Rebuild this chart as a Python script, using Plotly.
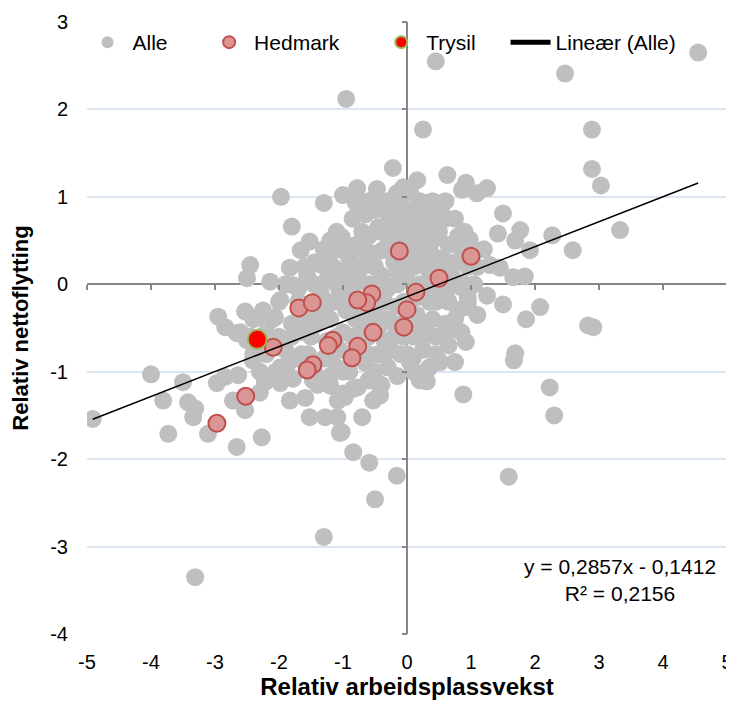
import numpy as np
import plotly.graph_objects as go

# ---------- data ----------
alle_x = [
    4.55, 2.47, 0.45, -0.95, 0.25, 2.89, 2.89, 3.03, 3.33, 0.63, 0.92, 0.86, 1.09, 1.25, 1.50,
    1.42, 1.77, 1.69, 1.92, 2.27, 2.59, 1.30, 1.45, 1.66, 1.84, 0.98, 0.41, 0.31, -0.22, 0.16,
    0.83, 1.25, 1.50, 2.08, 1.86, 2.91, 2.83, 0.95, 0.92, 1.69, 1.67, 2.23, 2.30, 1.59, 0.88,
    0.75, 0.52, 0.31, 0.09, -0.16, -0.50, -0.59, -0.84, -1.05, -0.70, -1.09, -0.53, -0.45, -0.97,
    -1.30, -3.31, -4.91, -4.00, -3.81, -3.73, -3.50, -3.42, -3.31, -3.34, -3.11, -2.97, -2.66,
    -2.27, -2.53, -2.72, -2.84, -2.64, -2.30, -2.22, -1.98, -1.83, -1.59, -1.52, -1.28, -1.02,
    -1.08, -1.00, -0.42, -0.77, -0.53, -1.20, -1.47, -1.78, -1.98, -1.72, -2.41, -2.50, -2.66,
    -2.84, -2.95, -2.53, -2.34, -2.06, -1.98, -1.78, -1.56, -1.33, -1.17, -0.94, -0.78, -0.63,
    -0.38, -0.42, -0.27, -0.47, -0.16, -0.06, -1.97, -1.30, -1.00, -0.78, -0.80, -0.47, -0.50,
    -1.80, -1.52, -1.66, -1.83, -2.45, -2.50, -2.14, -1.02, -0.69, -1.00, -0.89,
    -0.10, 0.05, 0.20, -0.20, 0.00, 0.15, -0.35, 0.30, -0.05, 0.10, -0.25, 0.35, -0.45, 0.50,
    0.20, -0.10, -0.60, 0.40, 0.65, -0.30, 0.05, -0.80, 0.25, -0.50, -1.20, 0.55, 0.75, -0.20,
    0.10, -0.70, -1.00, 0.35, 0.70, -0.40, -1.25, 0.00, 0.90, -0.60, 0.25, -0.85, 0.60, -1.05,
    -0.30, 0.45, 0.80, -0.15, 0.15, -0.45, -0.95, 0.30, 0.60, -0.20, -0.70, -1.40, 0.10, 0.45,
    -0.35, -0.60, -1.00, -1.60, 0.25, -0.10, -0.45, -1.05, -1.30, 0.05, -0.30, -0.65, -0.90,
    -1.65, -1.90, -2.00, -1.80, -2.20, -1.30, -1.55, -1.85, -2.05, -1.20, -0.60, -0.15, 0.20,
    0.35, -0.40, -0.85, -1.40, -1.10, -0.75, -0.55, -2.40, -2.60, -2.25, -1.70, -1.45, -1.15,
    -0.90, -1.45, -0.30, -0.65, -0.15, 0.45, 0.50, 0.15, -0.05, 0.65, 0.85, 0.95, 1.10, 1.10,
    0.80, 0.60, -0.05, 0.05, -0.45, -0.85, -1.25, -0.75, -0.25,
    -0.55, -0.30, 0.40, 0.60, -0.85, -0.15, 0.20, 0.50, 0.75, -1.10, -0.70, -0.40, 0.00, 0.30,
    0.90, -1.30, -1.05, -0.65, -0.35, 0.15, 0.35, 0.85, 1.20, -1.60, -1.15, -0.85, -0.50, -0.05,
    0.30, 0.50, 0.95, -1.90, -1.10, -0.35, -0.15, 0.20, 0.40, 0.75, 1.05, -2.00, -1.70, -1.40,
    -0.95, -0.65, -0.35, 0.35, 0.65, 0.95, -2.40, -2.10, -1.70, -1.20, -0.80, -0.55, -0.30, 0.00,
    0.40, 0.75, -2.45, -1.80, -1.50, -1.10, -0.75, -0.20, 0.25, 0.60, -2.20, -1.55, -1.20, -0.60,
    -0.35, 0.00, 0.45, -2.30, -1.45, -1.00, -0.50, 0.10, 0.30,
    -1.20, 0.55, 0.70, -0.15, 0.10, -0.55, 0.45, -0.80, -1.35, 0.20, -0.60,
]
alle_y = [
    2.65, 2.41, 2.55, 2.12, 1.77, 1.77, 1.32, 1.13, 0.62, 1.25, 1.16, 1.08, 1.04, 1.10, 0.81,
    0.58, 0.62, 0.50, 0.39, 0.56, 0.39, 0.22, 0.19, 0.08, 0.09, 0.51, 0.62, 0.93, 1.33, 1.19,
    -0.03, -0.13, -0.23, -0.26, -0.40, -0.49, -0.47, -0.26, -0.66, -0.79, -0.87, -1.18, -1.50,
    -2.20, -1.26, -0.89, -0.89, -1.11, -0.85, -2.19, -2.46, -2.04, -1.92, -1.70, -1.52, -1.52,
    -1.33, -1.28, -1.29, -2.89, -3.35, -1.54, -1.03, -1.33, -1.71, -1.12, -1.35, -1.42, -1.52,
    -1.71, -1.13, -1.86, -1.75, -1.44, -1.33, -1.06, -1.04, -1.24, -1.12, -1.13, -1.33, -1.30,
    -1.52, -1.52, -1.69, -1.33, -1.25, -1.27, -1.18, -1.10, -1.16, -1.10, -1.08, -0.95, -0.85,
    -0.87, -0.64, -0.56, -0.49, -0.37, -0.31, -0.38, -0.38, -0.18, -0.01, 0.10, 0.22, 0.08,
    0.08, 0.19, 0.35, 0.39, 0.65, 0.77, 0.88, 1.04, 1.11, 1.00, 0.93, 1.02, 1.10, 0.93, 1.09,
    0.85, 0.66, 0.49, 0.39, 0.19, 0.22, 0.07, 0.03, 0.54, 0.53, 0.39, 0.27,
    1.00, 1.05, 0.95, 0.90, 0.85, 0.80, 0.85, 0.85, 0.70, 0.65, 0.70, 0.70, 0.65, 0.60, 0.55,
    0.55, 0.55, 0.50, 0.45, 0.45, 0.45, 0.45, 0.35, 0.35, 0.35, 0.30, 0.25, 0.25, 0.20, 0.20,
    0.15, 0.15, 0.10, 0.10, 0.05, 0.05, 0.00, 0.00, -0.05, -0.05, -0.10, -0.10, -0.05, -0.20,
    -0.30, -0.25, -0.35, -0.35, -0.30, -0.45, -0.45, -0.45, -0.45, -0.45, -0.60, -0.60, -0.65,
    -0.60, -0.55, -0.55, -0.75, -0.80, -0.80, -0.75, -0.85, -0.90, -0.95, -0.90, -1.00, -0.80,
    -0.75, -0.60, -0.45, -0.55, -0.30, -0.35, -0.90, -1.00, -1.05, -1.10, -1.05, -1.10, -0.95,
    -1.15, -1.20, -1.15, -0.95, -0.30, -0.25, -0.80, -0.55, -0.30, -0.05, 0.00, -0.20, 0.30,
    0.25, 0.60, 0.80, 0.30, 0.85, 0.05, -0.15, -0.60, -0.70, -0.55, -0.15, 0.20, -0.35, 0.55,
    0.75, -0.20, 0.30, -0.50, -0.60, -0.65, 0.05, -0.75,
    0.95, 0.95, 0.95, 0.95, 0.75, 0.75, 0.75, 0.75, 0.75, 0.60, 0.60, 0.60, 0.60, 0.60,
    0.60, 0.40, 0.40, 0.40, 0.40, 0.40, 0.40, 0.40, 0.40, 0.20, 0.20, 0.20, 0.20, 0.20,
    0.20, 0.20, 0.20, 0.00, 0.00, 0.00, 0.00, 0.00, 0.00, 0.00, 0.00, -0.20, -0.20, -0.20,
    -0.20, -0.20, -0.20, -0.20, -0.20, -0.20, -0.40, -0.40, -0.40, -0.40, -0.40, -0.40, -0.40, -0.40,
    -0.40, -0.40, -0.60, -0.60, -0.60, -0.60, -0.60, -0.60, -0.60, -0.60, -0.80, -0.80, -0.80, -0.80,
    -0.80, -0.80, -0.80, -1.00, -1.00, -1.00, -1.00, -1.00, -1.00,
    0.50, 0.80, -0.50, 0.15, -0.45, -0.10, 0.25, -0.20, -0.10, 0.70, 0.95,
]

hedmark_x = [-0.12, 1.00, 0.50, 0.14, 0.00, -0.05, -0.53, -0.55, -0.63, -0.77, -1.69, -1.48,
             -1.16, -1.23, -0.77, -0.86, -1.47, -1.56, -2.09, -2.52, -2.97]
hedmark_y = [0.38, 0.32, 0.07, -0.09, -0.29, -0.49, -0.55, -0.11, -0.21, -0.18, -0.27, -0.21,
             -0.64, -0.70, -0.71, -0.84, -0.92, -0.98, -0.72, -1.28, -1.59]

trysil_x = [-2.34]
trysil_y = [-0.63]

trend_slope = 0.2857
trend_intercept = -0.1412
r_squared = 0.2156

x_ticks = [-5, -4, -3, -2, -1, 0, 1, 2, 3, 4, 5]
y_ticks = [-4, -3, -2, -1, 0, 1, 2, 3]

# ---------- figure ----------
font = "Liberation Sans, Arial, sans-serif"
FS = 20
fig = go.Figure()

fig.add_trace(go.Scatter(x=alle_x, y=alle_y, mode="markers", name="Alle", legend="legend",
                         marker=dict(color="#BFBFBF", size=18, line=dict(width=0))))
fig.add_trace(go.Scatter(x=hedmark_x, y=hedmark_y, mode="markers", name="Hedmark", legend="legend2",
                         marker=dict(color="#DA9694", size=17, line=dict(color="#C0504D", width=2))))
fig.add_trace(go.Scatter(x=trysil_x, y=trysil_y, mode="markers", name="Trysil", legend="legend3",
                         marker=dict(color="#FF0000", size=19, line=dict(color="#9BBB59", width=2))))

tx = np.array([min(alle_x), max(alle_x)])
fig.add_trace(go.Scatter(x=tx, y=trend_slope * tx + trend_intercept, mode="lines",
                         name="Lineær (Alle)", legend="legend4",
                         line=dict(color="black", width=1.5)))

# invisible trace for tick-mark overlay axes
fig.add_trace(go.Scatter(x=[None], y=[None], xaxis="x2", yaxis="y2", showlegend=False,
                         hoverinfo="skip"))


def fmt(v):
    return f"{v:.4f}".replace(".", ",")


sign = "-" if trend_intercept < 0 else "+"
fig.add_annotation(xref="paper", yref="paper", x=0.833, y=0.088, xanchor="center",
                   yanchor="middle", showarrow=False,
                   text=f"y = {fmt(trend_slope)}x {sign} {fmt(abs(trend_intercept))}<br>R² = {fmt(r_squared)}",
                   font=dict(family=font, size=21, color="black"), align="center")

legend_common = dict(orientation="h", y=1.0, xanchor="left", yanchor="top",
                     bgcolor="rgba(0,0,0,0)", font=dict(family=font, size=21),
                     itemsizing="constant", itemwidth=40)

fig.update_layout(
    width=726, height=696,
    margin=dict(l=79, r=7, t=14, b=70),
    paper_bgcolor="white", plot_bgcolor="white",
    font=dict(family=font, size=FS, color="black"),
    showlegend=True,
    legend=dict(x=-0.007, **legend_common),
    legend2=dict(x=0.183, **legend_common),
    legend3=dict(x=0.452, **legend_common),
    legend4=dict(x=0.654, **legend_common),
    xaxis=dict(range=[-5, 5], tickvals=x_ticks, ticktext=[str(v) for v in x_ticks],
               showgrid=False, zeroline=True, automargin=False, ticklabeloverflow="allow",
               zerolinecolor="#868686", zerolinewidth=1.5, showline=False,
               ticks="outside", ticklen=10, tickcolor="rgba(0,0,0,0)",
               title=dict(text="<b>Relativ arbeidsplassvekst</b>", standoff=6,
                          font=dict(family=font, size=24))),
    yaxis=dict(range=[-4, 3], tickvals=y_ticks, ticktext=[str(v) for v in y_ticks],
               showgrid=True, gridcolor="#DCE6F2", automargin=False,
               gridwidth=1.5, zeroline=True, zerolinecolor="#868686", zerolinewidth=1.5,
               showline=False, ticks="outside", ticklen=14, tickcolor="rgba(0,0,0,0)",
               title=dict(text="<b>Relativ nettoflytting</b>", standoff=15,
                          font=dict(family=font, size=22))),
    xaxis2=dict(overlaying="x", anchor="free", position=4 / 7, range=[-5, 5],
                tickvals=x_ticks, showticklabels=False, ticks="outside", ticklen=5,
                tickcolor="#868686", tickwidth=1.5, showgrid=False, zeroline=False,
                showline=False, side="bottom", automargin=False),
    yaxis2=dict(overlaying="y", anchor="free", position=0.5, range=[-4, 3],
                tickvals=y_ticks, showticklabels=False, ticks="outside", ticklen=5,
                tickcolor="#868686", tickwidth=1.5, showgrid=False, zeroline=False,
                showline=False, side="left", automargin=False),
)

fig.write_html("out.html")
